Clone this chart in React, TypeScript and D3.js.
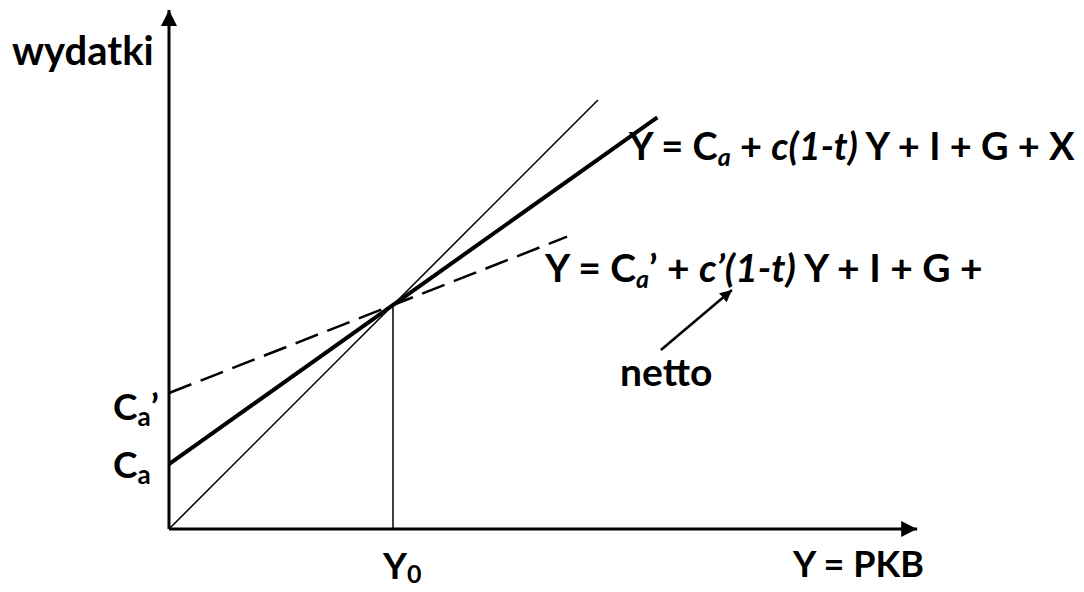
import React from "react";
import * as d3 from "d3";

// Model values (units: Y0 = 1)
const Y0 = 1;
const diagonal: [number, number][] = [[0, 0], [1.915, 1.915]];
const mainLine: [number, number][] = [[0, 0.29], [2.18, 1.838]];
const dashedLine: [number, number][] = [[0, 0.607], [1.777, 1.305]];
const equilibrium: [number, number] = [1, 1];
const xAxisEnd = 3.34;
const yAxisEnd = 2.317;
const nettoArrow: [number, number][] = [[2.196, 0.799], [2.513, 1.067]];

const FONT = "Lato, 'Open Sans', sans-serif";

export default function App() {
  const x = d3.scaleLinear().domain([0, 1]).range([169, 393]);
  const y = d3.scaleLinear().domain([0, 1]).range([529, 305]);
  const line = d3.line<[number, number]>().x(d => x(d[0])).y(d => y(d[1]));

  const sub = 25;
  return (
    <svg width={1084} height={592} style={{ position: "absolute", left: 0, top: 0, background: "#fff" }}
      fontFamily={FONT} fontWeight={700}>
      <defs>
        <marker id="arr" viewBox="0 0 10 10" refX="10" refY="5" markerWidth="16" markerHeight="16"
          markerUnits="userSpaceOnUse" orient="auto">
          <path d="M0,0 L10,5 L0,10 Z" fill="#000" />
        </marker>
        <marker id="arrSmall" viewBox="0 0 10 10" refX="10" refY="5" markerWidth="12" markerHeight="12"
          markerUnits="userSpaceOnUse" orient="auto">
          <path d="M0,0 L10,5 L0,10 Z" fill="#000" />
        </marker>
      </defs>
      {/* axes */}
      <line x1={x(0)} y1={y(0)} x2={x(0)} y2={y(yAxisEnd)} stroke="#000" strokeWidth={3} markerEnd="url(#arr)" />
      <line x1={x(0)} y1={y(0)} x2={x(xAxisEnd)} y2={y(0)} stroke="#000" strokeWidth={3} markerEnd="url(#arr)" />
      {/* vertical at Y0 */}
      <line x1={x(Y0)} y1={y(0)} x2={x(Y0)} y2={y(equilibrium[1])} stroke="#000" strokeWidth={1.5} />
      {/* lines */}
      <path d={line(diagonal) || ""} stroke="#000" strokeWidth={1.5} fill="none" />
      <path d={line(mainLine) || ""} stroke="#000" strokeWidth={4} fill="none" />
      <path d={line(dashedLine) || ""} stroke="#000" strokeWidth={2.5} fill="none" strokeDasharray="24 10" />
      {/* netto arrow */}
      <path d={line(nettoArrow) || ""} stroke="#000" strokeWidth={2.5} fill="none" markerEnd="url(#arrSmall)" />

      {/* labels */}
      <text x={12} y={65} fontSize={40}>wydatki</text>
      <text x={629} y={160} fontSize={38}>
        Y = C<tspan fontSize={sub} fontStyle="italic" dy={6}>a</tspan>
        <tspan dy={-6}> + </tspan><tspan fontStyle="italic">c(1-t)</tspan> Y + I + G + X
      </text>
      <text x={545} y={282} fontSize={39}>
        Y = C<tspan fontSize={sub} fontStyle="italic" dy={6}>a</tspan>
        <tspan dy={-6}>’ + </tspan><tspan fontStyle="italic">c’(1-t)</tspan> Y + I + G +
      </text>
      <text x={620} y={386} fontSize={39}>netto</text>
      <text x={113} y={420} fontSize={37}>
        C<tspan fontSize={26} dy={6}>a</tspan><tspan dy={-6}>’</tspan>
      </text>
      <text x={113} y={478} fontSize={37}>
        C<tspan fontSize={26} dy={6}>a</tspan>
      </text>
      <text x={383} y={579} fontSize={37}>
        Y<tspan fontSize={25} dy={4}>0</tspan>
      </text>
      <text x={793} y={577} fontSize={36}>Y = PKB</text>
    </svg>
  );
}
